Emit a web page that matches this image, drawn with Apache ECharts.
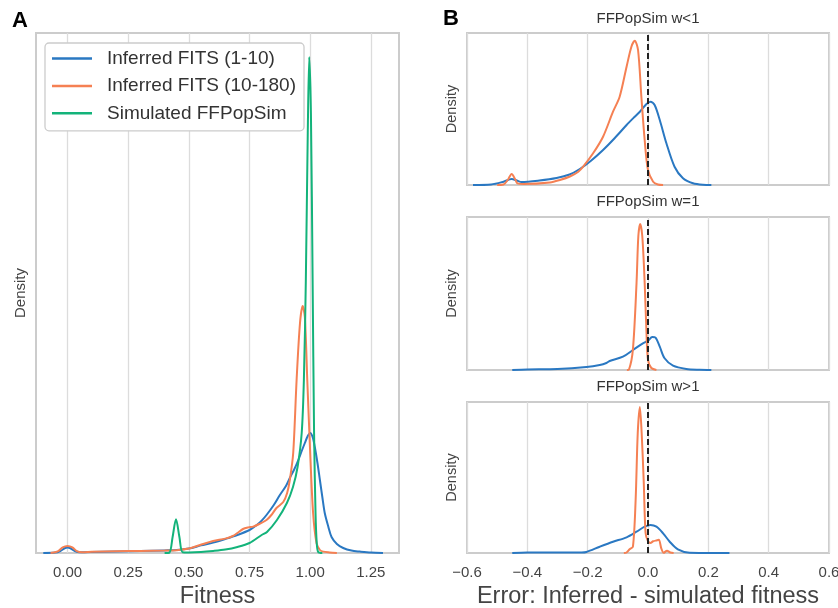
<!DOCTYPE html>
<html>
<head>
<meta charset="utf-8">
<script src="https://cdn.jsdelivr.net/npm/echarts@6/dist/echarts.min.js"></script>
<style>html,body{margin:0;padding:0;background:#fff;}#c{width:838px;height:608px;}</style>
</head>
<body>
<div id="c"></div>
<script>
// ---------- DATA ----------
const seriesNames = ['Inferred FITS (1-10)', 'Inferred FITS (10-180)', 'Simulated FFPopSim'];
const panelTitles = ['FFPopSim w<1', 'FFPopSim w=1', 'FFPopSim w>1'];
const ticksA = [0, 0.25, 0.5, 0.75, 1.0, 1.25];

// Panel A: fitness densities
const aBlueX = [-0.10,-0.05,-0.03,-0.01,0.0,0.01,0.03,0.05,0.10,0.20,0.30,0.40,0.45,0.50,0.55,0.60,0.65,0.70,0.75,0.78,0.80,0.82,0.85,0.875,0.90,0.916,0.935,0.951,0.965,0.978,0.99,1.0,1.01,1.019,1.03,1.04,1.05,1.06,1.075,1.088,1.11,1.136,1.17,1.205,1.25,1.30];
const aBlueY = [0,0.02,0.1,0.25,0.28,0.25,0.1,0.04,0.05,0.08,0.1,0.13,0.15,0.22,0.38,0.52,0.7,0.9,1.15,1.4,1.62,1.9,2.4,2.9,3.35,3.75,4.2,4.65,5.1,5.5,5.85,6.0,5.8,5.3,4.5,3.65,2.8,2.0,1.3,0.8,0.45,0.25,0.12,0.07,0.02,0];
const aOrangeX = [-0.07,-0.04,-0.02,0.0,0.02,0.04,0.06,0.10,0.20,0.30,0.40,0.45,0.50,0.546,0.60,0.65,0.681,0.70,0.723,0.745,0.765,0.79,0.82,0.84,0.861,0.889,0.905,0.916,0.93,0.944,0.958,0.969,0.978,0.988,0.999,1.012,1.026,1.04,1.054,1.08,1.11];
const aOrangeY = [0,0.08,0.28,0.35,0.28,0.08,0.04,0.06,0.09,0.1,0.12,0.14,0.22,0.4,0.6,0.72,0.85,1.0,1.2,1.28,1.32,1.45,1.65,1.9,2.25,2.55,3.0,3.65,5.0,8.65,11.5,12.35,11.8,8.65,5.3,2.0,0.5,0.15,0.07,0.03,0];
const aGreenX = [0.40,0.42,0.433,0.447,0.461,0.474,0.50,0.55,0.60,0.65,0.70,0.75,0.80,0.822,0.863,0.904,0.929,0.948,0.965,0.974,0.982,0.99,0.996,1.003,1.010,1.016,1.022,1.027,1.033,1.05];
const aGreenY = [0,0.02,0.8,1.69,0.8,0.04,0.03,0.05,0.1,0.17,0.3,0.5,0.9,1.05,1.65,2.5,3.3,4.3,6.0,8.65,13.6,21,24.8,22,13.6,6,2,0.5,0.05,0];

// Panel B: error densities (w<1, w=1, w>1)
const b1BlueX = [-0.58,-0.52,-0.479,-0.452,-0.435,-0.419,-0.36,-0.303,-0.26,-0.226,-0.19,-0.149,-0.11,-0.071,-0.045,-0.027,-0.005,0.008,0.022,0.039,0.061,0.088,0.116,0.149,0.182,0.21];
const b1BlueY = [0,0.05,0.33,0.6,0.45,0.3,0.45,0.7,1.05,1.6,2.4,3.5,4.7,6.0,6.8,7.33,8.1,8.33,8.0,6.5,4.17,1.83,0.67,0.17,0.02,0];
const b1OrangeX = [-0.50,-0.479,-0.465,-0.452,-0.44,-0.433,-0.413,-0.325,-0.292,-0.259,-0.231,-0.215,-0.182,-0.149,-0.116,-0.094,-0.071,-0.055,-0.044,-0.033,-0.022,-0.011,0.0,0.017,0.033,0.05];
const b1OrangeY = [0,0.05,0.5,1.1,0.55,0.17,0.1,0.25,0.5,0.85,1.33,1.83,3.17,4.83,7.33,8.83,11.83,13.83,14.43,13.5,8.83,4.5,1.5,0.33,0.05,0];
const b2BlueX = [-0.45,-0.40,-0.30,-0.204,-0.16,-0.138,-0.127,-0.083,-0.05,-0.017,0.0,0.014,0.025,0.039,0.055,0.083,0.127,0.171,0.21];
const b2BlueY = [0,0.05,0.1,0.3,0.5,0.7,0.9,1.33,2.0,2.67,2.93,3.3,3.23,2.33,1.17,0.43,0.1,0.02,0];
const b2OrangeX = [-0.07,-0.063,-0.05,-0.038,-0.032,-0.026,-0.019,-0.011,-0.005,0.0,0.011,0.028];
const b2OrangeY = [0,0.05,2.07,8.7,13.4,14.6,13.4,8.7,3.7,1.0,0.2,0];
const b3BlueX = [-0.45,-0.40,-0.30,-0.22,-0.204,-0.16,-0.116,-0.071,-0.038,-0.011,0.008,0.028,0.05,0.072,0.099,0.138,0.2,0.27];
const b3BlueY = [0,0.05,0.06,0.05,0.1,0.63,1.13,1.57,2.13,2.63,2.8,2.63,1.97,1.13,0.37,0.03,0.01,0];
const b3OrangeX = [-0.08,-0.071,-0.061,-0.050,-0.041,-0.034,-0.027,-0.021,-0.014,-0.008,0.0,0.008,0.017,0.030,0.036,0.044,0.052,0.063,0.074,0.085];
const b3OrangeY = [0,0.05,0.37,0.63,5.3,12,14.6,12,7,2,1.17,1.0,1.17,1.27,1.33,0.47,0.02,0.23,0.05,0];

// ---------- STYLE ----------
const FONT = '"Liberation Sans", Arial, Helvetica, sans-serif';
const C_BLUE = '#2a78c2', C_ORANGE = '#f58053', C_GREEN = '#13b37a';
const zip = (xs, ys) => xs.map((x, i) => [x, ys[i]]);

function curve(name, color, xs, ys, idx, z) {
  return {
    type: 'line', name: name, xAxisIndex: idx, yAxisIndex: idx,
    data: zip(xs, ys), showSymbol: false, symbol: 'none', smooth: 0.3,
    lineStyle: { color: color, width: 2 }, itemStyle: { color: color },
    z: z || 3, silent: true
  };
}
function vline(idx, values, style, z) {
  return {
    type: 'line', xAxisIndex: idx, yAxisIndex: idx, data: [], silent: true, z: z,
    markLine: {
      silent: true, z: z, symbol: ['none', 'none'], label: { show: false },
      lineStyle: style, animation: false,
      data: values.map(v => ({ xAxis: v }))
    }
  };
}

const gridsB = [{ top: 33, height: 152 }, { top: 217, height: 153 }, { top: 402, height: 151 }];
const yMaxB = [15.2, 15.3, 15.1];
const gridStyle = { show: true, borderColor: '#cccccc', borderWidth: 2, backgroundColor: '#fff', containLabel: false, outerBoundsMode: 'none' };

const grids = [Object.assign({ left: 36, top: 33, width: 363, height: 520 }, gridStyle)]
  .concat(gridsB.map(g => Object.assign({ left: 467, top: g.top, width: 362, height: g.height }, gridStyle)));

const fmtB = v => (v < -1e-9 ? '\u2212' : '') + Math.abs(v).toFixed(1);

const xAxes = [{
  gridIndex: 0, type: 'value', min: -0.13, max: 1.366,
  name: 'Fitness', nameLocation: 'middle', nameGap: 32,
  nameTextStyle: { fontSize: 23.5, color: '#444', fontFamily: FONT },
  axisLine: { show: false }, axisTick: { show: false }, splitLine: { show: false },
  axisLabel: { customValues: ticksA, formatter: v => v.toFixed(2), fontSize: 15, color: '#444', margin: 12, fontFamily: FONT }
}];
for (let i = 1; i <= 3; i++) {
  xAxes.push({
    gridIndex: i, type: 'value', min: -0.6, max: 0.6, interval: 0.2,
    name: i === 3 ? 'Error: Inferred - simulated fitness' : '', nameLocation: 'middle', nameGap: 32,
    nameTextStyle: { fontSize: 23.5, color: '#444', fontFamily: FONT },
    axisLine: { show: false }, axisTick: { show: false },
    splitLine: { show: true, lineStyle: { color: '#dcdcdc', width: 1.3 } },
    axisLabel: { show: i === 3, formatter: fmtB, fontSize: 15, color: '#444', margin: 12, fontFamily: FONT, showMinLabel: true, showMaxLabel: true }
  });
}
const yAxes = [{
  gridIndex: 0, type: 'value', min: 0, max: 26,
  name: 'Density', nameLocation: 'middle', nameGap: 7.5,
  nameTextStyle: { fontSize: 15, color: '#444', fontFamily: FONT },
  axisLine: { show: false }, axisTick: { show: false }, axisLabel: { show: false }, splitLine: { show: false }
}];
for (let i = 1; i <= 3; i++) {
  yAxes.push({
    gridIndex: i, type: 'value', min: 0, max: yMaxB[i - 1],
    name: 'Density', nameLocation: 'middle', nameGap: 8,
    nameTextStyle: { fontSize: 14.5, color: '#444', fontFamily: FONT },
    axisLine: { show: false }, axisTick: { show: false }, axisLabel: { show: false }, splitLine: { show: false }
  });
}

const series = [
  vline(0, ticksA, { color: '#dcdcdc', width: 1.3, type: 'solid' }, 1),
  curve(seriesNames[0], C_BLUE, aBlueX, aBlueY, 0, 3),
  curve(seriesNames[1], C_ORANGE, aOrangeX, aOrangeY, 0, 4),
  curve(seriesNames[2], C_GREEN, aGreenX, aGreenY, 0, 5),
  curve(seriesNames[0], C_BLUE, b1BlueX, b1BlueY, 1, 3),
  curve(seriesNames[1], C_ORANGE, b1OrangeX, b1OrangeY, 1, 4),
  vline(1, [0], { color: '#222', width: 2, type: [6, 3] }, 6),
  curve(seriesNames[0], C_BLUE, b2BlueX, b2BlueY, 2, 3),
  curve(seriesNames[1], C_ORANGE, b2OrangeX, b2OrangeY, 2, 4),
  vline(2, [0], { color: '#222', width: 2, type: [6, 3] }, 6),
  curve(seriesNames[0], C_BLUE, b3BlueX, b3BlueY, 3, 3),
  curve(seriesNames[1], C_ORANGE, b3OrangeX, b3OrangeY, 3, 4),
  vline(3, [0], { color: '#222', width: 2, type: [6, 3] }, 6)
];

const titleStyle = { fontSize: 15, fontWeight: 'normal', color: '#333', fontFamily: FONT };
const option = {
  animation: false,
  backgroundColor: '#fff',
  textStyle: { fontFamily: FONT },
  title: [
    { text: 'A', left: 12, top: 10, padding: 0, textStyle: { fontSize: 22, fontWeight: 'bold', color: '#000', fontFamily: FONT } },
    { text: 'B', left: 443, top: 8, padding: 0, textStyle: { fontSize: 22, fontWeight: 'bold', color: '#000', fontFamily: FONT } },
    { text: panelTitles[0], left: 648, top: 11, padding: 0, textAlign: 'center', textStyle: titleStyle },
    { text: panelTitles[1], left: 648, top: 194.5, padding: 0, textAlign: 'center', textStyle: titleStyle },
    { text: panelTitles[2], left: 648, top: 379.5, padding: 0, textAlign: 'center', textStyle: titleStyle }
  ],
  legend: {
    data: seriesNames, orient: 'vertical', left: 45, top: 43, z: 10,
    padding: [6, 8, 8, 7], itemGap: 8.4, itemWidth: 40, itemHeight: 2.5, icon: 'rect',
    backgroundColor: '#fff', borderColor: '#cccccc', borderWidth: 1.3, borderRadius: 4,
    textStyle: { fontSize: 19, color: '#333', fontFamily: FONT, padding: [0, 0, 0, 10] },
    selectedMode: false
  },
  grid: grids,
  xAxis: xAxes,
  yAxis: yAxes,
  series: series
};
const chart = echarts.init(document.getElementById('c'), null, { renderer: 'canvas' });
chart.setOption(option);
</script>
</body>
</html>
